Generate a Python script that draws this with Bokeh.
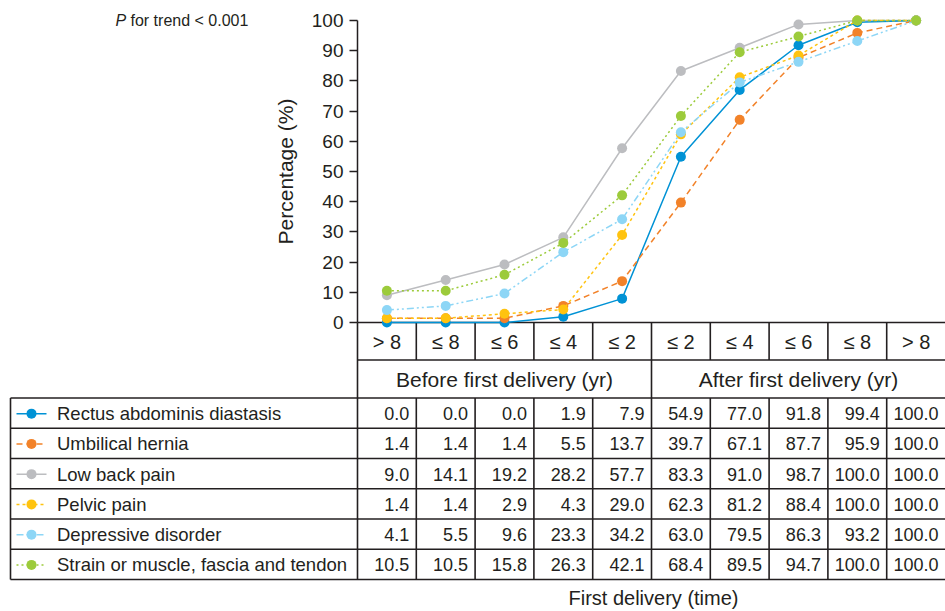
from bokeh.plotting import figure
from bokeh.models import Range1d, FixedTicker, ColumnDataSource
from bokeh.core.properties import value
from bokeh.embed import file_html
from bokeh.resources import INLINE

# ---------------- data ----------------
periods = ["> 8", "≤ 8", "≤ 6", "≤ 4", "≤ 2", "≤ 2", "≤ 4", "≤ 6", "≤ 8", "> 8"]
groups = ["Before first delivery (yr)", "After first delivery (yr)"]
names = ["Rectus abdominis diastasis", "Umbilical hernia", "Low back pain",
         "Pelvic pain", "Depressive disorder", "Strain or muscle, fascia and tendon"]
rectus = [0.0, 0.0, 0.0, 1.9, 7.9, 54.9, 77.0, 91.8, 99.4, 100.0]
umbilical = [1.4, 1.4, 1.4, 5.5, 13.7, 39.7, 67.1, 87.7, 95.9, 100.0]
low_back = [9.0, 14.1, 19.2, 28.2, 57.7, 83.3, 91.0, 98.7, 100.0, 100.0]
pelvic = [1.4, 1.4, 2.9, 4.3, 29.0, 62.3, 81.2, 88.4, 100.0, 100.0]
depressive = [4.1, 5.5, 9.6, 23.3, 34.2, 63.0, 79.5, 86.3, 93.2, 100.0]
strain = [10.5, 10.5, 15.8, 26.3, 42.1, 68.4, 89.5, 94.7, 100.0, 100.0]
y_ticks = [0, 10, 20, 30, 40, 50, 60, 70, 80, 90, 100]
p_text = "for trend < 0.001"
x_title = "First delivery (time)"
y_title = "Percentage (%)"

series = [rectus, umbilical, low_back, pelvic, depressive, strain]
colors = ["#0092d5", "#f28229", "#bcbdc0", "#ffc30f", "#8dd6f6", "#9ccb3b"]
dashes = ["solid", "6 4", "solid", "3 3", "7 3 2 3 2 3", "2 3"]
draw_order = [2, 0, 1, 3, 4, 5]

FONT = "Liberation Sans"
INK = "#231f20"

# ---------------- geometry (picture pixels) ----------------
W, H = 945, 611
AXIS_X = 357          # x of the y axis (column 0)
ZERO_Y = 322          # y of 0 %
S = 3.02              # px per percent
NCOL = len(periods)
COL_W = 58.8


def fx(px):
    return (px - AXIS_X) / COL_W


def fy(py):
    return (ZERO_Y - py) / S


p = figure(width=W, height=H,
           x_range=Range1d(fx(0), fx(W)),
           y_range=Range1d(fy(H), fy(0)),
           output_backend="svg", toolbar_location=None, x_axis_location=None,
           min_border_left=0, min_border_right=0, min_border_top=0, min_border_bottom=0)
p.grid.visible = False
p.outline_line_color = None
p.background_fill_color = "white"
p.border_fill_color = "white"

ya = p.yaxis[0]
ya.fixed_location = 0
ya.ticker = FixedTicker(ticks=y_ticks)
ya.bounds = (0, 100)
ya.axis_line_color = INK
ya.axis_line_width = 1.5
ya.major_tick_line_color = INK
ya.major_tick_line_width = 1.5
ya.major_tick_out = 8
ya.major_tick_in = 0
ya.minor_tick_line_color = None
ya.major_label_text_font = FONT
ya.major_label_text_font_size = "19px"
ya.major_label_text_color = INK
ya.major_label_standoff = 6
ya.axis_label = y_title
ya.axis_label_text_font = FONT
ya.axis_label_text_font_size = "21px"
ya.axis_label_text_font_style = "normal"
ya.axis_label_text_color = INK
ya.axis_label_standoff = 12

# ---------------- table ----------------
LEFT = 10
TICK_ROW_BOT = 359.5
HEAD_BOT = 397.5
ROW_H = 30.25
row_py = [HEAD_BOT + ROW_H * i for i in range(len(names) + 1)]
half = NCOL // 2
RIGHT = fx(W + 5)

x0, y0, x1, y1 = [], [], [], []


def seg(a, b, c, d):
    x0.append(a); y0.append(b); x1.append(c); y1.append(d)


seg(0, 0, RIGHT, 0)
seg(0, fy(TICK_ROW_BOT), RIGHT, fy(TICK_ROW_BOT))
for r in row_py:
    seg(fx(LEFT), fy(r), RIGHT, fy(r))
seg(fx(LEFT), fy(HEAD_BOT), fx(LEFT), fy(row_py[-1]))
seg(0, 0, 0, fy(row_py[-1]))
for k in range(1, NCOL):
    if k == half:
        seg(k, 0, k, fy(row_py[-1]))
    else:
        seg(k, 0, k, fy(TICK_ROW_BOT))
        seg(k, fy(HEAD_BOT), k, fy(row_py[-1]))
p.segment(x0=x0, y0=y0, x1=x1, y1=y1, line_color=INK, line_width=1.6)

# period labels
p.text(x=[k + 0.5 for k in range(NCOL)], y=[fy(341)] * NCOL, text=periods,
       text_font=value(FONT), text_font_size="20px", text_color=INK,
       text_align="center", text_baseline="middle")
# group labels
p.text(x=[half / 2, half + (NCOL - half) / 2], y=[fy(379)] * 2, text=groups,
       text_font=value(FONT), text_font_size="21px", text_color=INK,
       text_align="center", text_baseline="middle")

# legend + values
for i in range(len(names)):
    yc = fy((row_py[i] + row_py[i + 1]) / 2 + 0.5)
    p.line(x=[fx(16), fx(46)], y=[yc, yc], line_color=colors[i], line_width=1.5,
           line_dash=dashes[i])
    p.scatter(x=[fx(31)], y=[yc], size=10, fill_color=colors[i], line_color=None)
    p.text(x=[fx(56.5)], y=[yc], text=[names[i]], text_font=value(FONT),
           text_font_size="18.5px", text_color=INK, text_align="left",
           text_baseline="middle")
    p.text(x=[k + 1 - 7 / COL_W for k in range(NCOL)], y=[yc] * NCOL,
           text=["%.1f" % v for v in series[i]], text_font=value(FONT),
           text_font_size="18px", text_color=INK, text_align="right",
           text_baseline="middle")

p.text(x=[fx(653)], y=[fy(597)], text=[x_title], text_font=value(FONT),
       text_font_size="20px", text_color=INK, text_align="center",
       text_baseline="middle")

# P for trend
p.text(x=[fx(115)], y=[100], text=["P"], text_font=value(FONT), text_font_size="16px",
       text_font_style="italic", text_color=INK, text_align="left", text_baseline="middle")
p.text(x=[fx(130)], y=[100], text=[p_text], text_font=value(FONT), text_font_size="16px",
       text_color=INK, text_align="left", text_baseline="middle")

# ---------------- curves ----------------
xs = [i + 0.5 for i in range(NCOL)]
for idx in draw_order:
    src = ColumnDataSource(dict(x=xs, y=series[idx]))
    p.line("x", "y", source=src, line_color=colors[idx], line_width=1.5,
           line_dash=dashes[idx])
    p.scatter("x", "y", source=src, size=10, fill_color=colors[idx], line_color=None)

open("out.html", "w").write(file_html(p, INLINE))
